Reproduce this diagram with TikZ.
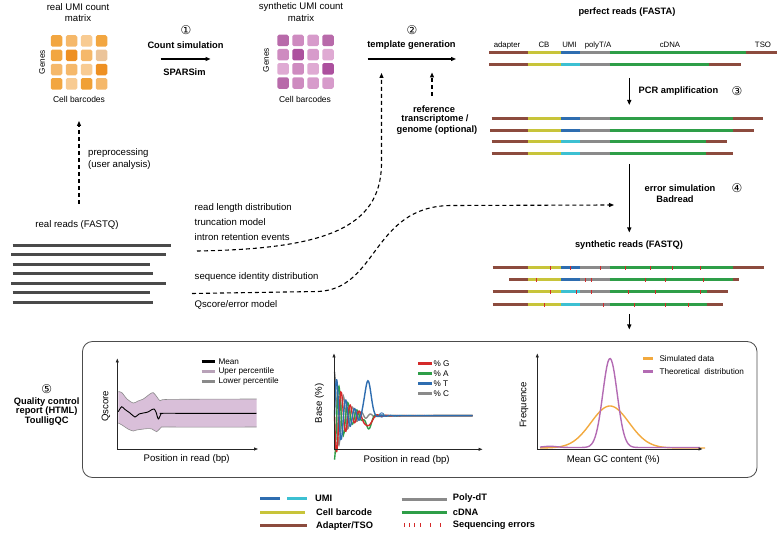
\documentclass[tikz,border=0pt]{standalone}
\usepackage{fontspec}
\setmainfont{Liberation Sans}
\newfontfamily\dvfont{DejaVu Sans}
\usetikzlibrary{arrows.meta}
\definecolor{cAd}{HTML}{8C4B3E}
\definecolor{cCB}{HTML}{C8C43A}
\definecolor{cUb}{HTML}{2E6DB0}
\definecolor{cUc}{HTML}{3CC0D2}
\definecolor{cPT}{HTML}{8A8A8A}
\definecolor{cDN}{HTML}{2E9E48}
\definecolor{cEr}{HTML}{D42A2A}
\definecolor{cRd}{HTML}{4A4A4A}
\definecolor{cBand}{HTML}{D9BFD9}
\definecolor{cOr}{HTML}{F2A93E}
\definecolor{cPu}{HTML}{B36BB3}
\definecolor{oA}{HTML}{F2A640}
\definecolor{oB}{HTML}{F5B86A}
\definecolor{oC}{HTML}{F8CB92}
\definecolor{oD}{HTML}{EE9022}
\definecolor{oE}{HTML}{EBC49A}
\definecolor{oF}{HTML}{F0A035}
\definecolor{pA}{HTML}{B86AAA}
\definecolor{pB}{HTML}{CE8BC0}
\definecolor{pC}{HTML}{D79BCB}
\definecolor{pD}{HTML}{AC509E}
\definecolor{pE}{HTML}{DFAAD3}
\newcommand\rdline[5]{%
  \draw[seg,cAd] (#2,#1) -- (527.7,#1);
  \draw[seg,cCB] (527.7,#1) -- (561,#1);
  \draw[seg,#3] (561,#1) -- (580,#1);
  \draw[seg,cPT] (580,#1) -- (609.5,#1);
  \draw[seg,cDN] (609.5,#1) -- (#4,#1);
  \draw[seg,cAd] (#4,#1) -- (#5,#1);}
\newcommand\errtick[2]{\draw[cEr,line width=0.9pt] (#1,#2-2) -- (#1,#2+2);}
\begin{document}
\begin{tikzpicture}[x=1pt,y=-1pt,
  lbl/.style={font=\fontsize{9.6}{11}\selectfont, inner sep=0pt},
  mlbl/.style={font=\fontsize{8.5}{10}\selectfont, inner sep=0pt},
  slbl/.style={font=\fontsize{8.2}{10}\selectfont, inner sep=0pt},
  tlbl/.style={font=\fontsize{7.8}{9}\selectfont, inner sep=0pt},
  blbl/.style={font=\fontsize{9.3}{10}\selectfont\bfseries, inner sep=0pt},
  num/.style={font=\dvfont\fontsize{12}{12}\selectfont, inner sep=0pt},
  arr/.style={-{Triangle[length=5pt,width=4pt]}, line width=1.1pt},
  darr/.style={arr, dash pattern=on 4pt off 3pt},
  axis/.style={-{Triangle[length=4pt,width=3pt]}, line width=0.8pt, black!85},
  seg/.style={line width=3pt},
  lgsw/.style={line width=3pt},
  cell/.style={rounded corners=1.6pt, minimum size=11.5pt, inner sep=0pt},
  plotl/.style={line width=1.4pt}]
\useasboundingbox (0,0) rectangle (780,534);

% ---------- real UMI matrix ----------
\node[lbl] (t1a) at (78,7) {real UMI count};
\node[lbl] (t1b) at (78,18.5) {matrix};
\foreach \col [count=\k from 0] in {oA,oB,oC,oA, oA,oD,oB,oE, oB,oB,oC,oD, oA,oC,oF,oB}{
  \pgfmathtruncatemacro\r{int(\k/4)}
  \pgfmathtruncatemacro\c{mod(\k,4)}
  \node[cell, fill=\col] (mo\k) at ({56.5+15*\c},{41+14.3*\r}) {};
}
\node[slbl, rotate=90] (g1) at (42,62) {Genes};
\node[mlbl] (cb1) at (79,99) {Cell barcodes};

% ---------- synthetic UMI matrix ----------
\node[lbl] (t2a) at (301,7) {synthetic UMI count};
\node[lbl] (t2b) at (301,18.5) {matrix};
\foreach \col [count=\k from 0] in {pA,pB,pC,pA, pB,pD,pC,pE, pE,pB,pE,pD, pA,pB,pC,pC}{
  \pgfmathtruncatemacro\r{int(\k/4)}
  \pgfmathtruncatemacro\c{mod(\k,4)}
  \node[cell, fill=\col] (mp\k) at ({283+15*\c},{40.5+14.2*\r}) {};
}
\node[slbl, rotate=90] (g2) at (266,60) {Genes};
\node[mlbl] (cb2) at (305,99) {Cell barcodes};

% ---------- step 1 ----------
\node[num] (n1) at (186,30.5) {①};
\node[blbl] (cs) at (185.5,45) {Count simulation};
\coordinate (a1s) at (160.5,59);
\coordinate (a1e) at (210.5,59);
\draw[arr] (a1s) -- (a1e);
\node[blbl] (sp) at (184.5,72.5) {SPARSim};

% ---------- step 2 ----------
\node[num] (n2) at (412,30.5) {②};
\node[blbl] (tg) at (411.5,45) {template generation};
\coordinate (a2s) at (367.5,59);
\coordinate (a2e) at (456,59);
\draw[arr] (a2s) -- (a2e);
\node[blbl] (ref1) at (434,109) {reference};
\node[blbl] (ref2) at (435,119.5) {transcriptome /};
\node[blbl] (ref3) at (437,130) {genome (optional)};
\coordinate (rfs) at (432,96);
\coordinate (rfe) at (432,72.5);
\draw[darr] (rfs) -- (rfe);

% ---------- preprocessing ----------
\coordinate (pps) at (79,204);
\coordinate (ppe) at (79,121);
\draw[darr] (pps) -- (ppe);
\node[lbl, anchor=west] (pp1) at (88,153.5) {preprocessing};
\node[lbl, anchor=west] (pp2) at (88,165.5) {(user analysis)};

% ---------- real reads ----------
\node[lbl] (rr) at (77,225.5) {real reads (FASTQ)};
\foreach \yy/\xa/\xb in {245.7/12.7/170.7, 255/11/165.7, 264.3/12.7/150, 273.7/12.7/153.3, 283.3/11/165.7, 292.7/12.7/150, 302.7/12.7/153.3}{
  \draw[line width=3pt, cRd] (\xa,\yy) -- (\xb,\yy);
}
\node[lbl, anchor=west] (m1) at (194.5,208.5) {read length distribution};
\node[lbl, anchor=west] (m2) at (194.5,222.5) {truncation model};
\node[lbl, anchor=west] (m3) at (194.5,237) {intron retention events};
\node[lbl, anchor=west] (m4) at (194.5,277) {sequence identity distribution};
\node[lbl, anchor=west] (m5) at (194.5,304.5) {Qscore/error model};

\coordinate (d1s) at (197,251);
\coordinate (d1e) at (381.5,73);
\draw[darr] (d1s) .. controls (325,249) and (380,228) .. (381.5,165) -- (d1e);
\coordinate (d2s) at (192,293.5);
\coordinate (d2e) at (614,205);
\draw[darr] (d2s) -- (318,291.5) .. controls (378,289) and (372,207) .. (450,205.5) -- (d2e);

% ---------- perfect reads ----------
\node[blbl] (pr) at (627,12) {perfect reads (FASTA)};
\node[tlbl] (la) at (507,45) {adapter};
\node[tlbl] (lb) at (544,45) {CB};
\node[tlbl] (lc) at (569.5,45) {UMI};
\node[tlbl] (ld) at (598,45) {polyT/A};
\node[tlbl] (le) at (670,45) {cDNA};
\node[tlbl] (lf) at (763,45) {TSO};
\rdline{52.3}{489.3}{cUb}{746}{776.7}
\rdline{64.3}{489.3}{cUc}{709.3}{740.7}

% PCR
\coordinate (p1s) at (629.3,78);
\coordinate (p1e) at (629.3,105);
\draw[arr] (p1s) -- (p1e);
\node[blbl] (pcr) at (678.5,91.5) {PCR amplification};
\node[num] (n3) at (737,91.5) {③};
\rdline{119}{491.7}{cUb}{732.7}{763.3}
\rdline{130.5}{490}{cUb}{732.7}{754}
\rdline{142}{491.7}{cUc}{706}{727.3}
\rdline{154}{491.7}{cUc}{706}{733.3}

% error simulation
\coordinate (e1s) at (629.3,164);
\coordinate (e1e) at (629.3,232.5);
\draw[arr] (e1s) -- (e1e);
\node[blbl] (es) at (680,188.5) {error simulation};
\node[num] (n4) at (737,188.5) {④};
\node[blbl] (bd) at (675,199.5) {Badread};
\node[blbl] (sr) at (629,245) {synthetic reads (FASTQ)};
\rdline{268}{492.7}{cUb}{732.7}{764.3}
\rdline{280}{509.3}{cUb}{733.3}{739.3}
\rdline{292}{492.7}{cUc}{706.7}{727.7}
\rdline{305}{492.7}{cUc}{706.7}{723.3}
\foreach \xx in {550,570,600,625,650,672,700} {\errtick{\xx}{268}}
\foreach \xx in {536.7,585,591.7,645,665,703} {\errtick{\xx}{280}}
\foreach \xx in {550,576,591.7,628,655,700} {\errtick{\xx}{292}}
\foreach \xx in {544,603,634,665,688} {\errtick{\xx}{305}}
\coordinate (f1s) at (629.3,314);
\coordinate (f1e) at (629.3,329.5);
\draw[arr] (f1s) -- (f1e);

% ---------- QC ----------
\node[num] (n5) at (46.7,389.5) {⑤};
\node[blbl, align=center, font=\fontsize{9.3}{9.8}\selectfont\bfseries] (qc) at (46.7,411.5) {Quality control\\report (HTML)\\ToulligQC};
\draw[line width=0.8pt, black!70, rounded corners=10pt] (82.5,341.5) rectangle (757,477.5);

% Qscore plot
\fill[cBand] plot[smooth] coordinates {(118.3,391.7) (121.7,392.5) (127,399) (133.3,403) (138,401) (143.3,399) (150,394) (153.3,392.7) (157,397) (160,400.7) (165,399.5) (200,399.2) (256.7,399)}
  -- plot[smooth] coordinates {(256.7,427) (200,427.2) (165,427) (161,427.5) (156.7,431.7) (152,429) (146.7,428.7) (136.7,430) (133.3,431) (128,429) (122,425) (118.3,423)} -- cycle;
\draw[black!45, line width=0.6pt] plot[smooth] coordinates {(118.3,391.7) (121.7,392.5) (127,399) (133.3,403) (138,401) (143.3,399) (150,394) (153.3,392.7) (157,397) (160,400.7) (165,399.5) (200,399.2) (256.7,399)};
\draw[black!45, line width=0.6pt] plot[smooth] coordinates {(256.7,427) (200,427.2) (165,427) (161,427.5) (156.7,431.7) (152,429) (146.7,428.7) (136.7,430) (133.3,431) (128,429) (122,425) (118.3,423)};
\draw[black, line width=0.9pt] plot[smooth] coordinates {(118.3,411.7) (121.7,406.7) (125,409.5) (130,413) (135,417) (139,414) (143.3,413) (148,412) (152,409.5) (154,409) (156,412) (158.3,419) (161,414) (163.3,413.3) (200,413.4) (256.7,413.3)};
\coordinate (q0) at (117.3,449);
\coordinate (qy) at (117.3,358.5);
\coordinate (qx) at (258,449);
\draw[axis] (q0) -- (qy);
\draw[axis] (q0) -- (qx);
\node[lbl, rotate=90] (ql) at (106,406.5) {Qscore};
\node[lbl] (qxl) at (186.7,459.5) {Position in read (bp)};
\draw[lgsw, black] (201.7,361.7) -- (215,361.7);
\draw[lgsw, cBand!85!black] (201.7,371.7) -- (215,371.7);
\draw[lgsw, cPT] (201.7,381.7) -- (215,381.7);
\node[slbl, anchor=west] (lq1) at (218.3,361.5) {Mean};
\node[slbl, anchor=west] (lq2) at (218.3,371.5) {Uper percentile};
\node[slbl, anchor=west] (lq3) at (218.3,381.5) {Lower percentile};

% Base plot
\foreach \cc/\ph/\bb in {cPT/270/0, cDN/90/13, cEr/0/12, cUb/180/-37}{
  \draw[\cc, plotl] plot[domain=334.5:472.7, samples=220, smooth] (\x, {415.7 + 44*exp(max(-15,-(\x-334.5)/11))*sin((\x-334.5)/9*360+\ph) + \bb*exp(max(-15,-0.5*((\x-368)/2.8)^2))});
}
\draw[cUb, line width=0.8pt] (381.7,415) circle (2.2pt);
\coordinate (b0) at (334,449.3);
\coordinate (by) at (334,353.5);
\coordinate (bx) at (482.5,449.3);
\draw[axis] (b0) -- (by);
\draw[axis] (b0) -- (bx);
\node[lbl, rotate=90] (bl) at (319.5,403.5) {Base (\%)};
\node[lbl] (bxl) at (406.7,460) {Position in read (bp)};
\draw[lgsw, cEr] (418.3,363.3) -- (431.7,363.3);
\draw[lgsw, cDN] (418.3,373.3) -- (431.7,373.3);
\draw[lgsw, cUb] (418.3,383.3) -- (431.7,383.3);
\draw[lgsw, cPT] (418.3,393.3) -- (431.7,393.3);
\node[slbl, anchor=west] (lb1) at (433.3,363.3) {\% G};
\node[slbl, anchor=west] (lb2) at (433.3,373.3) {\% A};
\node[slbl, anchor=west] (lb3) at (433.3,383.3) {\% T};
\node[slbl, anchor=west] (lb4) at (433.3,393.3) {\% C};

% GC plot
\draw[cOr, plotl] plot[domain=540:705, samples=120, smooth] (\x, {448 - 42*exp(max(-15,-0.5*((\x-610)/19)^2))});
\draw[cPu, plotl] plot[domain=540:700, samples=160, smooth] (\x, {447.5 - 89*exp(max(-15,-0.5*((\x-610)/7.2)^2)) - 1.2*exp(max(-15,-0.5*((\x-550)/7)^2))});
\coordinate (g0) at (537.3,449);
\coordinate (gy) at (537.3,353.5);
\coordinate (gx) at (702.5,449);
\draw[axis] (g0) -- (gy);
\draw[axis] (g0) -- (gx);
\node[lbl, rotate=90] (gl) at (524,405) {Frequence};
\node[lbl] (gxl) at (613.3,460) {Mean GC content (\%)};
\draw[lgsw, cOr] (643.3,358.3) -- (653.3,358.3);
\draw[lgsw, cPu] (643.3,371.7) -- (653.3,371.7);
\node[slbl, anchor=west] (lg1) at (659.3,358.3) {Simulated data};
\node[slbl, anchor=west] (lg2) at (659.3,371.7) {Theoretical\hspace{2pt} distribution};

% ---------- bottom legend ----------
\draw[lgsw, cUb] (260,498.3) -- (280,498.3);
\draw[lgsw, cUc] (287.3,498.3) -- (306.7,498.3);
\draw[lgsw, cCB] (260,512.3) -- (305,512.3);
\draw[lgsw, cAd] (260,526) -- (306.7,526);
\draw[lgsw, cPT] (401.7,499.3) -- (447.3,499.3);
\draw[lgsw, cDN] (401.7,512.7) -- (447.3,512.7);
\foreach \xx in {404,409.3,414.7,420.7,430,440.7} {\errtick{\xx}{525.5}}
\node[blbl, anchor=west] (k1) at (315,498) {UMI};
\node[blbl, anchor=west] (k2) at (316,512) {Cell barcode};
\node[blbl, anchor=west] (k3) at (316,526) {Adapter/TSO};
\node[blbl, anchor=west] (k4) at (452.7,498) {Poly-dT};
\node[blbl, anchor=west] (k5) at (452.7,512) {cDNA};
\node[blbl, anchor=west] (k6) at (452.7,525) {Sequencing errors};
\end{tikzpicture}
\end{document}
